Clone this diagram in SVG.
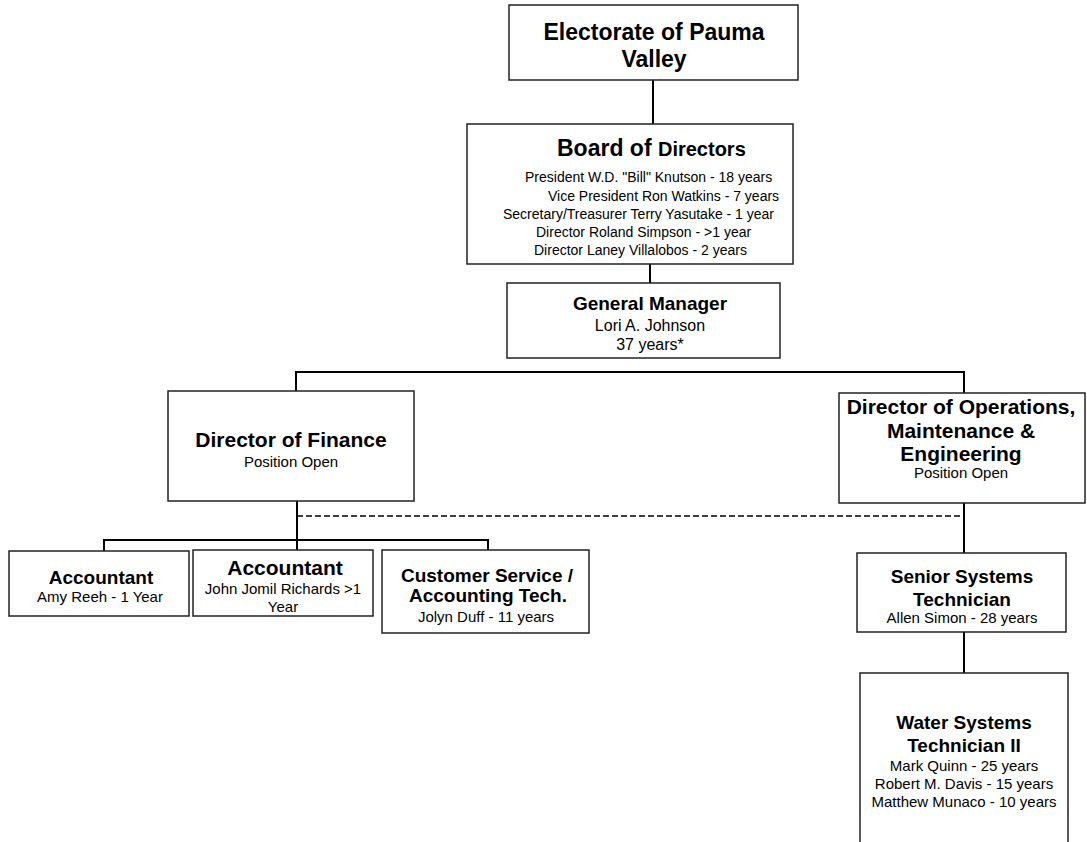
<svg xmlns="http://www.w3.org/2000/svg" width="1087" height="842" viewBox="0 0 1087 842">
<style>
.box{fill:#fff;stroke:#222;stroke-width:1.5}
.ln{stroke:#000;stroke-width:2;fill:none}
.dash{stroke:#000;stroke-width:1.5;fill:none;stroke-dasharray:6,3}
text{font-family:"Liberation Sans",Arial,sans-serif;fill:#000}
.t{font-weight:bold;text-anchor:middle}
.s{text-anchor:middle}
</style>
<rect width="1087" height="842" fill="#fff"/>
<g id="connectors">
<line class="ln" x1="653" y1="80" x2="653" y2="124"/>
<line class="ln" x1="650" y1="264" x2="650" y2="283"/>
<polyline class="ln" points="296,391 296,372 964,372 964,393"/>
<line class="ln" x1="297" y1="501" x2="297" y2="550"/>
<line class="dash" x1="297" y1="516" x2="964" y2="516"/>
<line class="ln" x1="964" y1="503" x2="964" y2="553"/>
<polyline class="ln" points="104,551 104,540 488,540 488,550"/>
<line class="ln" x1="964" y1="632" x2="964" y2="673"/>
</g>
<g id="electorate">
<rect class="box" x="509" y="5" width="289" height="75"/>
<text class="t" x="654" y="40" font-size="23">Electorate of Pauma</text>
<text class="t" x="654" y="67" font-size="23">Valley</text>
</g>
<g id="board">
<rect class="box" x="467" y="124" width="326" height="140"/>
<text x="557" y="156" font-weight="bold"><tspan font-size="23">Board of </tspan><tspan font-size="20">Directors</tspan></text>
<text x="525" y="182" font-size="14">President W.D. "Bill" Knutson - 18 years</text>
<text x="548" y="201" font-size="14">Vice President Ron Watkins - 7 years</text>
<text x="503" y="219" font-size="14">Secretary/Treasurer Terry Yasutake - 1 year</text>
<text x="536" y="237" font-size="14">Director Roland Simpson - &gt;1 year</text>
<text x="534" y="255" font-size="14">Director Laney Villalobos - 2 years</text>
</g>
<g id="gm">
<rect class="box" x="507" y="283" width="273" height="75"/>
<text class="t" x="650" y="310" font-size="19">General Manager</text>
<text class="s" x="650" y="331" font-size="16">Lori A. Johnson</text>
<text class="s" x="650" y="350" font-size="16">37 years*</text>
</g>
<g id="finance">
<rect class="box" x="168" y="391" width="246" height="110"/>
<text class="t" x="291" y="447" font-size="21">Director of Finance</text>
<text class="s" x="291" y="467" font-size="15">Position Open</text>
</g>
<g id="operations">
<rect class="box" x="839" y="393" width="246" height="110"/>
<text class="t" x="961" y="414" font-size="21">Director of Operations,</text>
<text class="t" x="961" y="438" font-size="21">Maintenance &amp;</text>
<text class="t" x="961" y="461" font-size="21">Engineering</text>
<text class="s" x="961" y="478" font-size="15">Position Open</text>
</g>
<g id="accountant1">
<rect class="box" x="9" y="551" width="180" height="65"/>
<text class="t" x="101" y="584" font-size="19">Accountant</text>
<text class="s" x="100" y="602" font-size="15">Amy Reeh - 1 Year</text>
</g>
<g id="accountant2">
<rect class="box" x="193" y="550" width="180" height="66"/>
<text class="t" x="285" y="575" font-size="21">Accountant</text>
<text class="s" x="283" y="594" font-size="15">John Jomil Richards &gt;1</text>
<text class="s" x="283" y="612" font-size="15">Year</text>
</g>
<g id="customer-service">
<rect class="box" x="382" y="550" width="207" height="83"/>
<text class="t" x="487" y="582" font-size="19">Customer Service /</text>
<text class="t" x="488" y="602" font-size="19">Accounting Tech.</text>
<text class="s" x="486" y="622" font-size="15">Jolyn Duff - 11 years</text>
</g>
<g id="senior-tech">
<rect class="box" x="857" y="553" width="209" height="79"/>
<text class="t" x="962" y="583" font-size="19">Senior Systems</text>
<text class="t" x="962" y="606" font-size="19">Technician</text>
<text class="s" x="962" y="623" font-size="15">Allen Simon - 28 years</text>
</g>
<g id="water-tech">
<rect class="box" x="860" y="673" width="208" height="180"/>
<text class="t" x="964" y="729" font-size="19">Water Systems</text>
<text class="t" x="964" y="752" font-size="19">Technician II</text>
<text class="s" x="964" y="771" font-size="15">Mark Quinn - 25 years</text>
<text class="s" x="964" y="789" font-size="15">Robert M. Davis - 15 years</text>
<text class="s" x="964" y="807" font-size="15">Matthew Munaco - 10 years</text>
</g>
</svg>
